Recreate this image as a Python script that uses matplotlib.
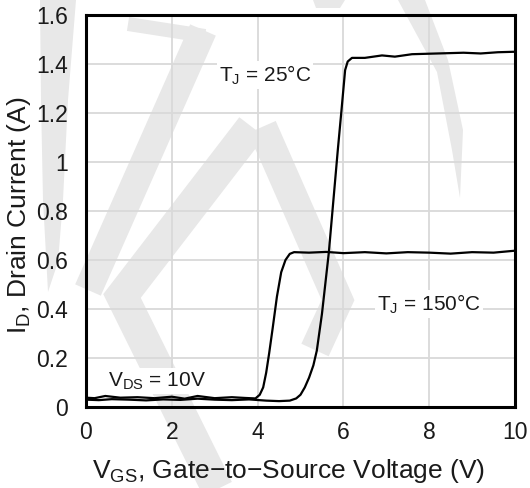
import matplotlib
matplotlib.use("Agg")
import matplotlib.pyplot as plt
from matplotlib.patches import Polygon
from matplotlib.lines import Line2D

plt.rcParams['font.family'] = ['Liberation Sans', 'DejaVu Sans']

# transfer characteristics, I_D vs V_GS
vgs_25 = [0.0, 0.3, 0.6, 1.0, 1.4, 1.8, 2.2, 2.6, 3.0, 3.4, 3.8, 4.2, 4.5, 4.75, 4.9,
          5.0, 5.1, 5.2, 5.3, 5.38, 5.5, 5.66, 5.77, 5.87, 5.96, 6.04, 6.1, 6.2,
          6.5, 6.9, 7.2, 7.6, 8.0, 8.4, 8.8, 9.2, 9.6, 10.0]
id_25 = [0.030, 0.028, 0.032, 0.030, 0.027, 0.031, 0.029, 0.034, 0.030, 0.028, 0.031,
         0.026, 0.024, 0.026, 0.035, 0.05, 0.08, 0.12, 0.17, 0.23, 0.38, 0.63, 0.85,
         1.05, 1.22, 1.375, 1.41, 1.425, 1.425, 1.435, 1.430, 1.440, 1.442, 1.444,
         1.446, 1.443, 1.448, 1.450]

vgs_150 = [0.0, 0.2, 0.45, 0.8, 1.2, 1.6, 2.0, 2.3, 2.6, 3.0, 3.4, 3.7, 3.95, 4.05,
           4.13, 4.2, 4.27, 4.35, 4.45, 4.55, 4.65, 4.75, 4.85, 5.2, 5.6, 6.0, 6.5,
           7.0, 7.5, 8.0, 8.5, 9.0, 9.5, 10.0]
id_150 = [0.038, 0.036, 0.045, 0.038, 0.040, 0.036, 0.042, 0.034, 0.045, 0.036, 0.040,
          0.037, 0.035, 0.05, 0.08, 0.14, 0.22, 0.32, 0.45, 0.55, 0.60, 0.625, 0.632,
          0.630, 0.633, 0.628, 0.632, 0.627, 0.632, 0.630, 0.626, 0.632, 0.630, 0.638]

xticks = [0, 2, 4, 6, 8, 10]
yticks = [0, 0.2, 0.4, 0.6, 0.8, 1.0, 1.2, 1.4, 1.6]
ytick_labels = ['0', '0.2', '0.4', '0.6', '0.8', '1', '1.2', '1.4', '1.6']

W, H = 530, 488
fig = plt.figure(figsize=(W / 100, H / 100), dpi=100)

# light grey background logo, drawn in pixel space of the figure
def px(pts):
    return [(x / W, 1 - y / H) for x, y in pts]

wm = '#e8e8e8'
shapes = [
    [(40, 0), (76, 0), (68, 100), (63, 200), (58, 262), (48, 292), (43, 200), (41, 100)],
    [(398, 0), (425, 0), (448, 60), (463, 130), (460, 198), (452, 150), (437, 72)],
    [(313, 0), (345, 0), (340, 8), (316, 8)],
]
for s in shapes:
    fig.patches.append(Polygon(px(s), closed=True, transform=fig.transFigure,
                               facecolor=wm, edgecolor='none', zorder=0))
strokes = [
    ([(128, 24), (205, 36)], 14),
    ([(203, 30), (88, 290)], 28),
    ([(252, 127), (122, 296), (218, 490)], 32),
    ([(262, 127), (338, 300), (315, 350)], 30),
]
for pts, w in strokes:
    xy = px(pts)
    fig.lines.append(Line2D([p[0] for p in xy], [p[1] for p in xy],
                            transform=fig.transFigure, color=wm, lw=w * 0.72,
                            solid_capstyle='butt', solid_joinstyle='miter', zorder=0))

ax = fig.add_axes([86 / W, 1 - 407 / H, 429 / W, 392 / H])
ax.set_zorder(1)
ax.patch.set_alpha(0)

ax.plot(vgs_25, id_25, color='black', lw=1.6, zorder=3)
ax.plot(vgs_150, id_150, color='black', lw=1.6, zorder=3)

ax.set_xlim(0, 10)
ax.set_ylim(0, 1.6)
ax.set_xticks(xticks)
ax.set_yticks(yticks)
ax.set_yticklabels(ytick_labels)
ax.tick_params(length=0, labelsize=16.5, colors='#1a1a1a')
ax.tick_params(axis='x', pad=10)
ax.tick_params(axis='y', pad=13)
ax.grid(True, color='#d9d9d9', lw=1.3)
ax.set_axisbelow(True)
for sp in ax.spines.values():
    sp.set_linewidth(2.2)
    sp.set_color('black')
    sp.set_zorder(4)

ax.set_xlabel('V$_\\mathregular{GS}$, Gate\u2212to\u2212Source Voltage (V)', fontsize=19,
              color='#1a1a1a')
ax.set_ylabel('I$_\\mathregular{D}$, Drain Current (A)', fontsize=19, color='#1a1a1a')
ax.xaxis.set_label_coords(0.473, -0.128)
ax.yaxis.set_label_coords(-0.124, 0.49)

box = dict(facecolor='white', edgecolor='none', pad=1.5)
ax.text(4.17, 1.355, 'T$_\\mathregular{J}$ = 25\u00b0C', fontsize=15, ha='center',
        va='center', bbox=box, zorder=2, color='#1a1a1a')
ax.text(8.0, 0.42, 'T$_\\mathregular{J}$ = 150\u00b0C', fontsize=15, ha='center',
        va='center', bbox=box, zorder=2, color='#1a1a1a')
ax.text(1.66, 0.105, 'V$_\\mathregular{DS}$ = 10V', fontsize=15, ha='center',
        va='center', bbox=box, zorder=2, color='#1a1a1a')

fig.savefig('out.png', dpi=100)
